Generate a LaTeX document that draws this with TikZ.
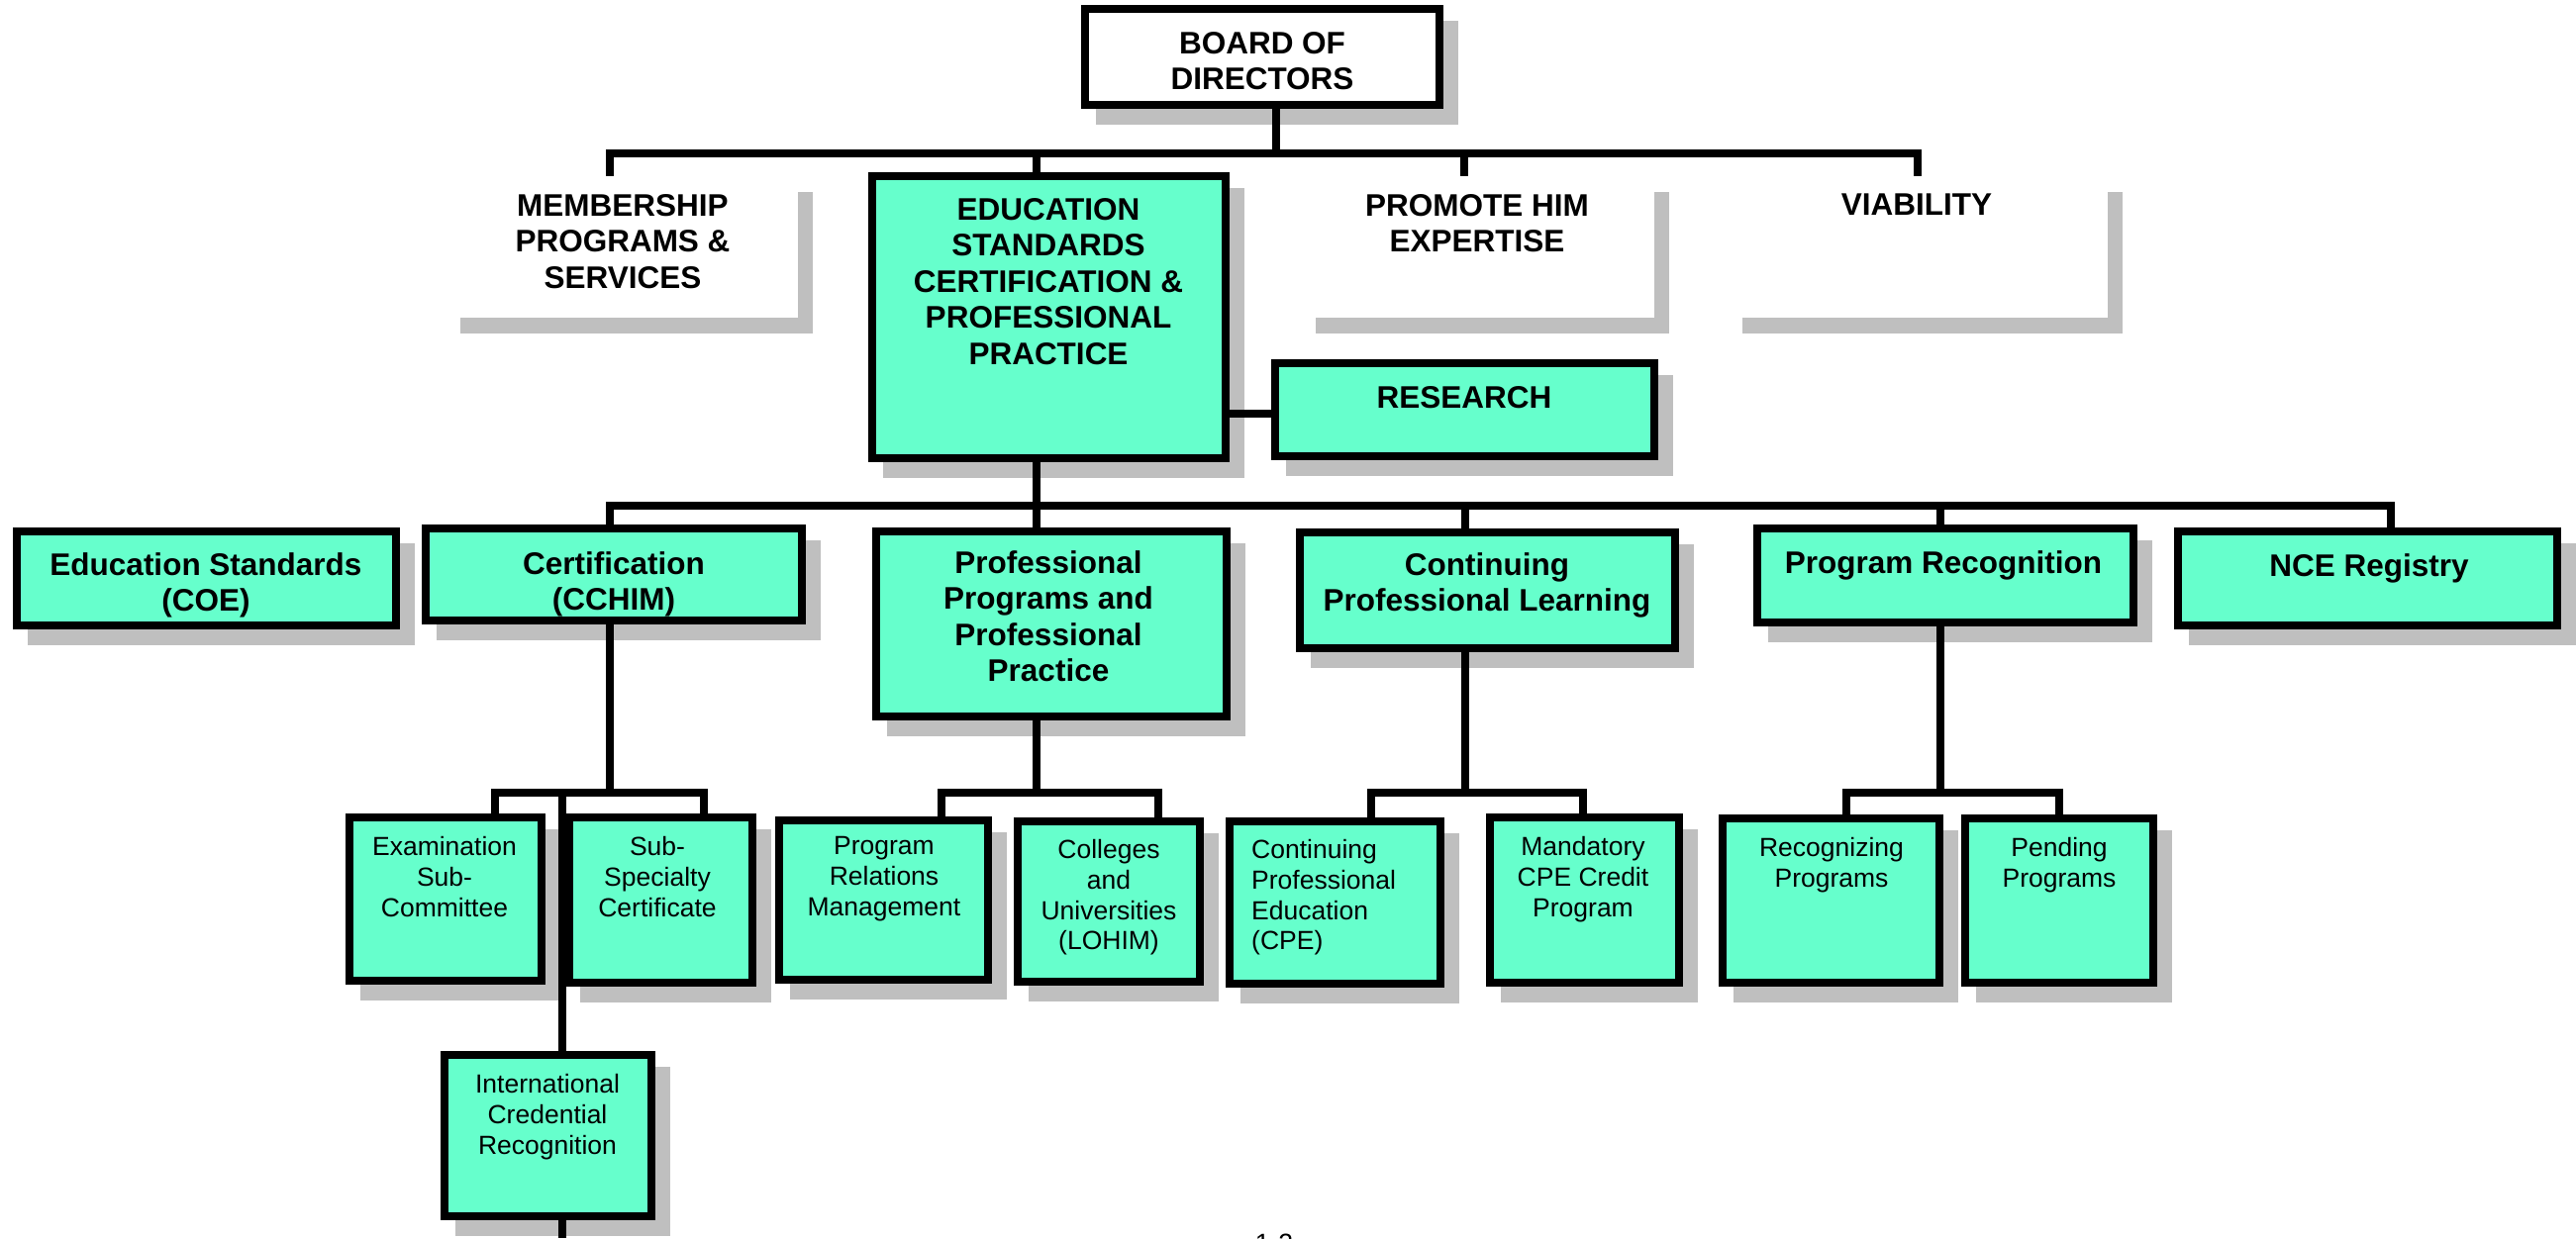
\documentclass[tikz,border=0pt]{standalone}
\usepackage{fontspec}
\setmainfont{Liberation Sans}
\definecolor{aqua}{RGB}{102,255,204}
\pgfdeclarelayer{bglayer}
\pgfdeclarelayer{shlayer}
\pgfsetlayers{bglayer,shlayer,main}
\tikzset{
  orgbox/.style n args={2}{draw, line width=8pt, fill=aqua, inner sep=0pt, outer sep=4pt,
    minimum width=#1pt, minimum height=#2pt},
  ghost/.style n args={2}{draw=none, fill=white, inner sep=0pt, outer sep=0pt,
    minimum width=#1pt, minimum height=#2pt},
  hb/.style={font=\fontsize{31.5}{36.5}\selectfont\bfseries, align=center, anchor=north, inner sep=0pt},
  hr/.style={font=\fontsize{26.5}{30.8}\selectfont, align=center, anchor=north, inner sep=0pt},
  link/.style={line width=8pt, line join=miter},
  shadowc/.style={fill=black, fill opacity=0.25}
}
\begin{document}
\begin{tikzpicture}[x=1pt,y=-1pt]
\useasboundingbox (0,0) rectangle (2602,1251);
\begin{pgfonlayer}{bglayer}
\fill[white] (0,0) rectangle (2602,1251);
\end{pgfonlayer}

% ---- boxes: top ----
\node[orgbox={358}{97}, fill=white] (board) at (1275,57.5) {};
\node[ghost={356}{143}] (mem) at (628,249.5) {};
\node[orgbox={357}{285}] (edu) at (1059.5,320.5) {};
\node[ghost={357}{143}] (prom) at (1492.5,249.5) {};
\node[ghost={384}{143}] (viab) at (1937,249.5) {};
\node[orgbox={383}{94}] (res) at (1479.5,414) {};

% ---- level 1 ----
\node[orgbox={383}{95}] (coe) at (208.5,584.5) {};
\node[orgbox={380}{93}] (cert) at (620,580.5) {};
\node[orgbox={354}{187}] (prof) at (1062,630.5) {};
\node[orgbox={379}{117}] (cont) at (1502.5,596.5) {};
\node[orgbox={380}{95}] (prec) at (1965,581.5) {};
\node[orgbox={383}{95}] (nce) at (2391.5,584.5) {};

% ---- level 2 ----
\node[orgbox={194}{165}] (exam) at (450,908.5) {};
\node[orgbox={185}{167}] (subs) at (667.5,909.5) {};
\node[orgbox={209}{163}] (intl) at (553.5,1147.5) {};
\node[orgbox={211}{161}] (prm) at (892.5,909.5) {};
\node[orgbox={184}{162}] (col) at (1120,911) {};
\node[orgbox={213}{164}] (cpe) at (1348.5,912) {};
\node[orgbox={191}{167}] (mand) at (1600.5,909.5) {};
\node[orgbox={219}{166}] (recog) at (1849.5,910) {};
\node[orgbox={190}{166}] (pend) at (2080,910) {};

% ---- texts ----
\node[hb] (boardT) at (1275,32) {BOARD OF\\DIRECTORS};
\node[hb] (memT) at (629,196) {MEMBERSHIP\\PROGRAMS \&\\SERVICES};
\node[hb] (eduT) at (1059,200) {EDUCATION\\STANDARDS\\CERTIFICATION \&\\PROFESSIONAL\\PRACTICE};
\node[hb] (promT) at (1492,196) {PROMOTE HIM\\EXPERTISE};
\node[hb] (viabT) at (1936,196) {VIABILITY};
\node[hb] (resT) at (1479,390) {RESEARCH};
\node[hb] (coeT) at (208,558) {Education Standards\\(COE)};
\node[hb] (certT) at (620,557) {Certification\\(CCHIM)};
\node[hb] (profT) at (1059,556) {Professional\\Programs and\\Professional\\Practice};
\node[hb] (contT) at (1502,558) {Continuing\\Professional Learning};
\node[hb] (precT) at (1963,556) {Program Recognition};
\node[hb] (nceT) at (2393,559) {NCE Registry};
\node[hr] (examT) at (449,845) {Examination\\Sub-\\Committee};
\node[hr] (subsT) at (664,845) {Sub-\\Specialty\\Certificate};
\node[hr] (intlT) at (553,1085) {International\\Credential\\Recognition};
\node[hr] (prmT) at (893,845) {Program\\Relations\\Management};
\node[hr] (colT) at (1120,848) {Colleges\\and\\Universities\\(LOHIM)};
\node[hr, align=left, anchor=north west] (cpeT) at (1264,848) {Continuing\\Professional\\Education\\(CPE)};
\node[hr] (mandT) at (1599,845) {Mandatory\\CPE Credit\\Program};
\node[hr] (recogT) at (1850,846) {Recognizing\\Programs};
\node[hr] (pendT) at (2080,846) {Pending\\Programs};
\begin{scope}
\clip (0,0) rectangle (2602,1251);
\node[hr] (pageT) at (1287,1247) {1-2};
\end{scope}

% ---- shadows ----
\begin{pgfonlayer}{shlayer}
\foreach \n in {board,mem,edu,prom,viab,res,coe,cert,prof,cont,prec,nce,exam,subs,intl,prm,col,cpe,mand,recog,pend}
  \fill[shadowc] ([shift={(15,16)}]\n.north west) rectangle ([shift={(15,16)}]\n.south east);
\end{pgfonlayer}

% ---- connectors ----
\begin{pgfonlayer}{bglayer}
\coordinate (busA) at (1289,155);
\coordinate (busAL) at (616,155);
\coordinate (busAR) at (1937,155);
\coordinate (busAE) at (1047,155);
\coordinate (busAP) at (1479,155);
\draw[link] (board.south -| busA) -- (busA);
\draw[link] (mem.north -| busAL) -- (busAL) -- (busAR) -- (viab.north -| busAR);
\draw[link] (busAE) -- (edu.north -| busAE);
\draw[link] (busAP) -- (prom.north -| busAP);
\coordinate (resY) at (0,418);
\draw[link] (edu.east |- resY) -- (res.west |- resY);

\coordinate (busBL) at (616,511);
\coordinate (busBR) at (2415,511);
\coordinate (busBE) at (1047,511);
\coordinate (busBC) at (1480,511);
\coordinate (busBP) at (1960,511);
\draw[link] (edu.south -| busBE) -- (busBE);
\draw[link] (cert.north -| busBL) -- (busBL) -- (busBR) -- (nce.north -| busBR);
\draw[link] (busBE) -- (prof.north -| busBE);
\draw[link] (busBC) -- (cont.north -| busBC);
\draw[link] (busBP) -- (prec.north -| busBP);

% certification subtree
\coordinate (c1) at (616,801);
\coordinate (c1L) at (500,801);
\coordinate (c1R) at (711,801);
\coordinate (c1M) at (568,801);
\coordinate (c1B) at (568,1251);
\draw[link] (cert.south -| c1) -- (c1);
\draw[link] (exam.north -| c1L) -- (c1L) -- (c1R) -- (subs.north -| c1R);
\draw[link] (c1M) -- (intl.north -| c1M);
\draw[link] (intl.south -| c1M) -- (c1B);

% professional programs subtree
\coordinate (c2) at (1047,801);
\coordinate (c2L) at (951,801);
\coordinate (c2R) at (1170,801);
\draw[link] (prof.south -| c2) -- (c2);
\draw[link] (prm.north -| c2L) -- (c2L) -- (c2R) -- (col.north -| c2R);

% continuing subtree
\coordinate (c3) at (1480,801);
\coordinate (c3L) at (1385,801);
\coordinate (c3R) at (1599,801);
\draw[link] (cont.south -| c3) -- (c3);
\draw[link] (cpe.north -| c3L) -- (c3L) -- (c3R) -- (mand.north -| c3R);

% program recognition subtree
\coordinate (c4) at (1960,801);
\coordinate (c4L) at (1865,801);
\coordinate (c4R) at (2080,801);
\draw[link] (prec.south -| c4) -- (c4);
\draw[link] (recog.north -| c4L) -- (c4L) -- (c4R) -- (pend.north -| c4R);
\end{pgfonlayer}
\end{tikzpicture}
\end{document}
